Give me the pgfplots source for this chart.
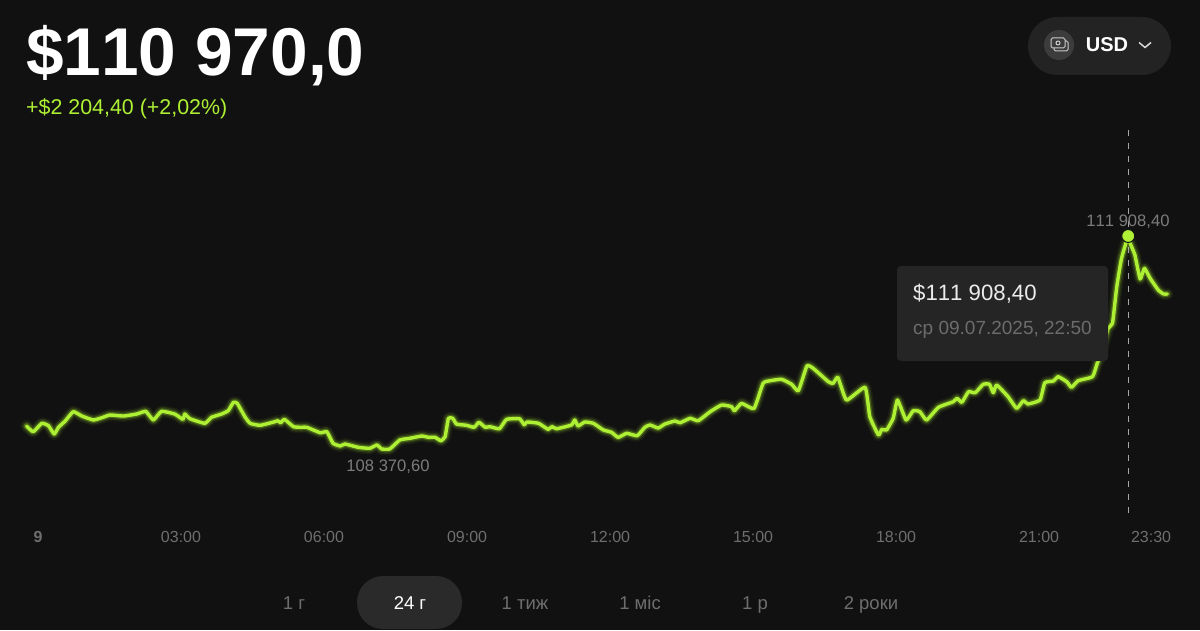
\documentclass[border=0pt]{standalone}
\usepackage{fontspec}
\setmainfont[Kerning=Off]{Liberation Sans}
\usepackage{pgfplots}
\usepackage{pgfplotstable}
\pgfplotsset{compat=1.18}
\definecolor{bgc}{HTML}{111111}
\definecolor{lime}{HTML}{AEF033}
\definecolor{tipc}{HTML}{252525}
\definecolor{tickc}{HTML}{6E6E6E}
\definecolor{minc}{HTML}{7C7C7C}
\definecolor{subc}{HTML}{6C6C6C}
\definecolor{pillc}{HTML}{2A2A2A}
\definecolor{btnc}{HTML}{232323}
\definecolor{iconc}{HTML}{3C3C3C}
\newcommand{\fs}[1]{\fontsize{#1pt}{#1pt}\selectfont}
\pgfplotstableread{
h v
-0.24 108752
-0.10 108657
0.08 108797
0.22 108757
0.34 108619
0.43 108731
0.57 108835
0.74 108990
0.92 108918
1.16 108852
1.34 108890
1.51 108935
1.79 108918
2.07 108951
2.26 108996
2.42 108852
2.59 108996
2.87 108951
3.04 108863
3.08 108951
3.19 108873
3.50 108797
3.64 108897
3.85 108951
3.99 109006
4.10 109146
4.18 109129
4.34 108907
4.45 108797
4.66 108764
4.97 108824
5.03 108840
5.09 108807
5.17 108863
5.36 108741
5.53 108731
5.64 108731
5.92 108641
6.06 108657
6.19 108465
6.34 108420
6.44 108453
6.72 108398
6.96 108382
7.11 108437
7.21 108371
7.38 108371
7.59 108520
7.80 108548
8.05 108586
8.19 108564
8.33 108564
8.45 108508
8.54 108574
8.61 108880
8.70 108880
8.78 108785
8.99 108764
9.15 108731
9.25 108814
9.38 108731
9.48 108741
9.68 108707
9.83 108863
10.10 108873
10.20 108774
10.26 108819
10.50 108797
10.70 108697
10.78 108741
10.88 108707
11.19 108769
11.26 108852
11.33 108752
11.47 108819
11.65 108797
11.86 108686
12.03 108648
12.17 108564
12.35 108631
12.57 108591
12.73 108731
12.84 108769
13.01 108719
13.15 108785
13.36 108835
13.47 108807
13.68 108880
13.85 108840
14.10 108990
14.34 109101
14.55 109073
14.61 109006
14.76 109129
15.02 109043
15.21 109461
15.36 109505
15.60 109528
15.81 109445
15.95 109338
16.13 109749
16.26 109711
16.58 109488
16.68 109461
16.78 109561
16.96 109184
17.35 109395
17.45 108907
17.63 108603
17.70 108697
17.80 108686
17.94 108880
18.03 109184
18.21 108852
18.36 109006
18.50 108990
18.64 108852
18.89 109063
19.20 109156
19.28 109212
19.38 109146
19.52 109322
19.66 109305
19.83 109445
19.96 109445
20.04 109305
20.11 109433
20.35 109239
20.53 109046
20.67 109172
20.77 109118
21.02 109184
21.12 109471
21.30 109500
21.40 109571
21.58 109488
21.68 109395
21.82 109505
22.12 109571
22.22 109794
22.28 109904
22.45 110375
22.54 110458
22.63 111066
22.73 111538
22.87 111908.4
22.91 111787
23.01 111592
23.12 111194
23.21 111372
23.33 111205
23.50 111011
23.61 110945
23.69 110945
}\pricedata
\begin{document}
\begin{tikzpicture}
\begin{axis}[
  at={(0,0)}, anchor=south west,
  scale only axis, width=1200pt, height=630pt,
  xmin=-0.797, xmax=24.376, ymin=105364, ymax=115828,
  axis background/.style={fill=bgc},
  axis line style={draw=none},
  ytick=\empty,
  xtick={0,3,6,9,12,15,18,21,23.35},
  xticklabels={\textbf{9},03:00,06:00,09:00,12:00,15:00,18:00,21:00,23:30},
  tick style={draw=none},
  xticklabel style={font=\fs{16}, text=tickc, anchor=center, yshift=93pt, inner sep=0pt},
  clip=true,
]
\addplot[no marks, smooth, tension=0.25, lime!75!black, opacity=0.08, line width=12pt, line join=round, line cap=round] table[x=h,y=v]{\pricedata};
\addplot[no marks, smooth, tension=0.25, lime!75!black, opacity=0.16, line width=9pt, line join=round, line cap=round] table[x=h,y=v]{\pricedata};
\addplot[no marks, smooth, tension=0.25, lime!80!black, opacity=0.35, line width=6pt, line join=round, line cap=round] table[x=h,y=v]{\pricedata};
\addplot[no marks, smooth, tension=0.25, lime, line width=3.4pt, line join=round, line cap=round] table[x=h,y=v]{\pricedata};
\addplot[no marks, white!65!black, line width=1.1pt, dash pattern=on 6pt off 7pt] coordinates {(22.87,113669) (22.87,107274)};
\addplot[only marks, mark=*, mark size=6.5pt, mark options={fill=lime, draw=bgc, line width=1pt}] coordinates {(22.87,111908.4)};
\end{axis}
\begin{scope}[x=1pt,y=1pt]
% tooltip
\fill[tipc, rounded corners=4pt] (897,{630-361}) rectangle (1108,{630-266});
\node[anchor=west, inner sep=0pt, text=white!92!black, font=\fs{22.2}] at (913,{630-294}) {\$111 908,40};
\node[anchor=west, inner sep=0pt, text=subc, font=\fs{19}] at (913,{630-330}) {ср 09.07.2025, 22:50};
% value labels
\node[inner sep=0pt, text=minc, font=\fs{16.6}] at (388,{630-467}) {108 370,60};
\node[inner sep=0pt, text=minc, font=\fs{16.6}] at (1128,{630-222}) {111 908,40};
% header
\node[anchor=west, inner sep=0pt, text=white, font=\fs{67.6}\bfseries] at (26,{630-56}) {\$110 970,0};
\node[anchor=west, inner sep=0pt, text=lime, font=\fs{21.4}] at (26,{630-109}) {+\$2 204,40 (+2,02\%)};
% currency button
\fill[btnc, rounded corners=29pt] (1028,{630-75}) rectangle (1171,{630-17});
\fill[iconc] (1059,{630-45}) circle (15);
\draw[white!80!black, line width=1pt, rounded corners=1.5pt, fill=iconc] (1054,{630-51}) rectangle (1068,{630-41});
\draw[white!80!black, line width=1pt, rounded corners=1.5pt, fill=iconc] (1051,{630-48}) rectangle (1065,{630-38});
\draw[white!80!black, line width=1pt] (1058,{630-43}) circle (2);
\node[inner sep=0pt, text=white, font=\fs{20}\bfseries] at (1107,{630-45}) {USD};
\draw[white!85!black, line width=1.5pt] (1139,{630-42.5}) -- (1145,{630-47.5}) -- (1151,{630-42.5});
% range selector
\fill[pillc, rounded corners=26pt] (357,{630-629}) rectangle (462,{630-576});
\foreach \lx/\lt/\lc in {294/1 г/tickc, 410/24 г/white, 525/1 тиж/tickc, 640/1 міс/tickc, 755/1 р/tickc, 871/2 роки/tickc}{
  \node[anchor=base, inner sep=0pt, text=\lc, font=\fs{18.5}] at (\lx,{630-609}) {\lt};
}
\end{scope}
\end{tikzpicture}
\end{document}
